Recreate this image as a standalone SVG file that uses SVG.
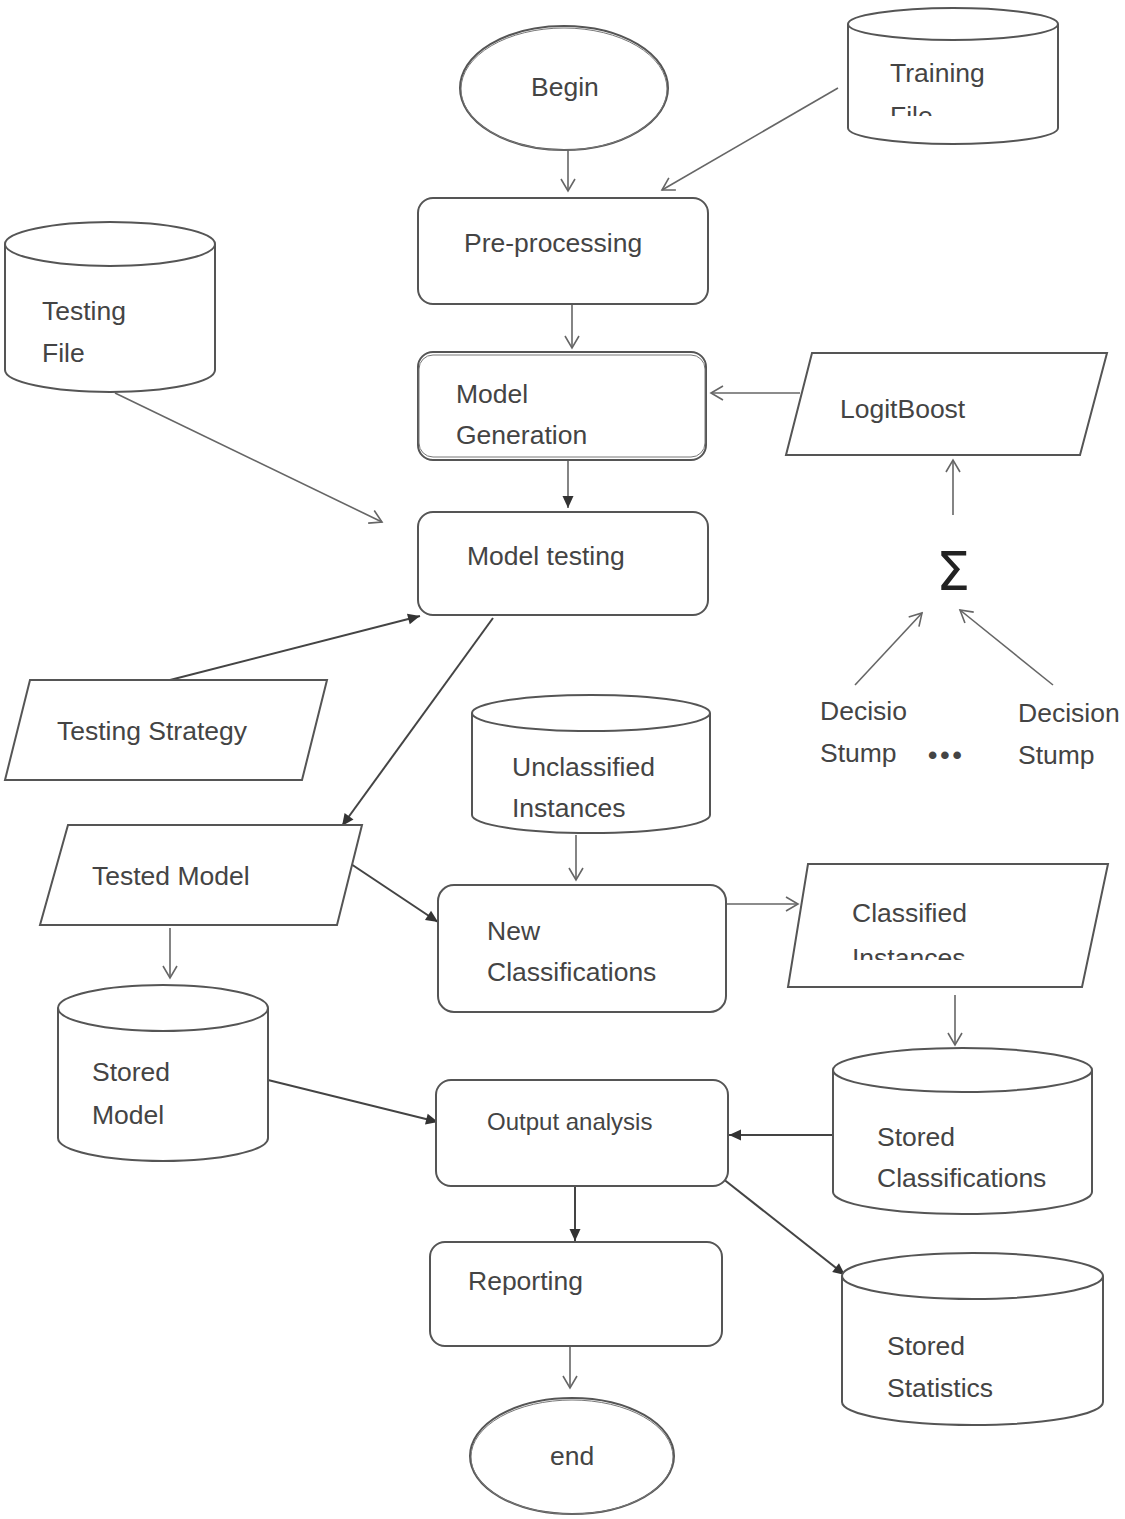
<svg xmlns="http://www.w3.org/2000/svg" width="1125" height="1519" viewBox="0 0 1125 1519">
<style>
.shape{fill:#fff;stroke:#555;stroke-width:2}
.t{font-family:"Liberation Sans",Arial,sans-serif;font-size:26.5px;fill:#444}
.c{stroke:#666;stroke-width:1.6;fill:none}
.cd{stroke:#444;stroke-width:2;fill:none}
</style>
<defs>
<marker id="open" markerWidth="16" markerHeight="16" refX="14" refY="8" orient="auto" markerUnits="userSpaceOnUse">
<path d="M2,1 L14,8 L2,15" fill="none" stroke="#666" stroke-width="1.6"/>
</marker>
<marker id="fill" markerWidth="14" markerHeight="14" refX="13" refY="7" orient="auto" markerUnits="userSpaceOnUse">
<path d="M1,1.5 L13,7 L1,12.5 Z" fill="#333"/>
</marker>
<clipPath id="clipTrain"><rect x="840" y="0" width="240" height="116"/></clipPath>
<clipPath id="clipClass"><rect x="780" y="860" width="340" height="100"/></clipPath>
<clipPath id="clipModel"><rect x="50" y="980" width="240" height="145"/></clipPath>
</defs>
<rect width="1125" height="1519" fill="#fff"/>

<g id="connectors">
<line class="c" x1="568" y1="150" x2="568" y2="191" marker-end="url(#open)"/>
<line class="c" x1="838" y1="88" x2="662" y2="190" marker-end="url(#open)"/>
<line class="c" x1="572" y1="304" x2="572" y2="348" marker-end="url(#open)"/>
<line class="c" x1="800" y1="393" x2="711" y2="393" marker-end="url(#open)"/>
<line class="c" x1="953" y1="515" x2="953" y2="460" marker-end="url(#open)"/>
<line class="c" x1="855" y1="685" x2="922" y2="613" marker-end="url(#open)"/>
<line class="c" x1="1053" y1="685" x2="960" y2="610" marker-end="url(#open)"/>
<line class="c" x1="568" y1="460" x2="568" y2="508" marker-end="url(#fill)"/>
<line class="c" x1="115" y1="393" x2="382" y2="522" marker-end="url(#open)"/>
<line class="cd" x1="170" y1="680" x2="420" y2="616" marker-end="url(#fill)"/>
<line class="cd" x1="493" y1="618" x2="342" y2="826" marker-end="url(#fill)"/>
<line class="cd" x1="342" y1="858" x2="438" y2="922" marker-end="url(#fill)"/>
<line class="c" x1="170" y1="928" x2="170" y2="978" marker-end="url(#open)"/>
<line class="c" x1="576" y1="835" x2="576" y2="880" marker-end="url(#open)"/>
<line class="c" x1="726" y1="904" x2="798" y2="904" marker-end="url(#open)"/>
<line class="c" x1="955" y1="995" x2="955" y2="1045" marker-end="url(#open)"/>
<line class="cd" x1="833" y1="1135" x2="729" y2="1135" marker-end="url(#fill)"/>
<line class="cd" x1="268" y1="1080" x2="438" y2="1122" marker-end="url(#fill)"/>
<line class="cd" x1="575" y1="1186" x2="575" y2="1241" marker-end="url(#fill)"/>
<line class="cd" x1="722" y1="1178" x2="845" y2="1275" marker-end="url(#fill)"/>
<line class="c" x1="570" y1="1346" x2="570" y2="1388" marker-end="url(#open)"/>
</g>

<g id="begin">
<ellipse class="shape" cx="564" cy="88" rx="104" ry="62"/>
<ellipse cx="564" cy="89" rx="103" ry="61" fill="none" stroke="#777" stroke-width="1"/>
<text class="t" x="531" y="96">Begin</text>
</g>

<g id="training-file">
<path class="shape" d="M848,24 A105,16 0 0 1 1058,24 L1058,128 A105,16 0 0 1 848,128 Z"/>
<path class="shape" d="M848,24 A105,16 0 0 0 1058,24" fill="none"/>
<text class="t" x="890" y="82">Training</text>
<text class="t" x="890" y="125" clip-path="url(#clipTrain)">File</text>
</g>

<g id="pre-processing">
<rect class="shape" x="418" y="198" width="290" height="106" rx="15"/>
<text class="t" x="464" y="252">Pre-processing</text>
</g>

<g id="model-generation">
<rect class="shape" x="418" y="352" width="288" height="108" rx="15"/>
<rect x="419" y="355" width="286" height="102" rx="14" fill="none" stroke="#777" stroke-width="1"/>
<text class="t" x="456" y="403">Model</text>
<text class="t" x="456" y="444">Generation</text>
</g>

<g id="logitboost">
<polygon class="shape" points="812,353 1107,353 1080,455 786,455"/>
<text class="t" x="840" y="418">LogitBoost</text>
</g>

<g id="sigma">
<text x="953" y="590" text-anchor="middle" style="font-family:'DejaVu Sans',sans-serif;font-size:54px;fill:#222">Σ</text>
</g>

<g id="decision-stump-1">
<text class="t" x="820" y="720">Decisio</text>
<text class="t" x="820" y="762">Stump</text>
</g>

<g id="ellipsis">
<text class="t" x="928" y="764" style="font-weight:bold;letter-spacing:3px">•••</text>
</g>

<g id="decision-stump-2">
<text class="t" x="1018" y="722">Decision</text>
<text class="t" x="1018" y="764">Stump</text>
</g>

<g id="testing-file">
<path class="shape" d="M5,244 A105,22 0 0 1 215,244 L215,370 A105,22 0 0 1 5,370 Z"/>
<path class="shape" d="M5,244 A105,22 0 0 0 215,244" fill="none"/>
<text class="t" x="42" y="320">Testing</text>
<text class="t" x="42" y="362">File</text>
</g>

<g id="model-testing">
<rect class="shape" x="418" y="512" width="290" height="103" rx="15"/>
<text class="t" x="467" y="565">Model testing</text>
</g>

<g id="testing-strategy">
<polygon class="shape" points="30,680 327,680 302,780 5,780"/>
<text class="t" x="57" y="740">Testing Strategy</text>
</g>

<g id="tested-model">
<polygon class="shape" points="68,825 362,825 337,925 40,925"/>
<text class="t" x="92" y="885">Tested Model</text>
</g>

<g id="unclassified-instances">
<path class="shape" d="M472,713 A119,18 0 0 1 710,713 L710,815 A119,18 0 0 1 472,815 Z"/>
<path class="shape" d="M472,713 A119,18 0 0 0 710,713" fill="none"/>
<text class="t" x="512" y="776">Unclassified</text>
<text class="t" x="512" y="817">Instances</text>
</g>

<g id="new-classifications">
<rect class="shape" x="438" y="885" width="288" height="127" rx="16"/>
<text class="t" x="487" y="940">New</text>
<text class="t" x="487" y="981">Classifications</text>
</g>

<g id="classified-instances">
<polygon class="shape" points="808,864 1108,864 1082,987 788,987"/>
<text class="t" x="852" y="922">Classified</text>
<text class="t" x="852" y="967" clip-path="url(#clipClass)">Instances</text>
</g>

<g id="stored-model">
<path class="shape" d="M58,1008 A105,23 0 0 1 268,1008 L268,1138 A105,23 0 0 1 58,1138 Z"/>
<path class="shape" d="M58,1008 A105,23 0 0 0 268,1008" fill="none"/>
<text class="t" x="92" y="1081">Stored</text>
<text class="t" x="92" y="1124" clip-path="url(#clipModel)">Model</text>
</g>

<g id="output-analysis">
<rect class="shape" x="436" y="1080" width="292" height="106" rx="15"/>
<text class="t" x="487" y="1130" style="font-size:24px">Output analysis</text>
</g>

<g id="stored-classifications">
<path class="shape" d="M833,1070 A129.5,22 0 0 1 1092,1070 L1092,1192 A129.5,22 0 0 1 833,1192 Z"/>
<path class="shape" d="M833,1070 A129.5,22 0 0 0 1092,1070" fill="none"/>
<text class="t" x="877" y="1146">Stored</text>
<text class="t" x="877" y="1187">Classifications</text>
</g>

<g id="reporting">
<rect class="shape" x="430" y="1242" width="292" height="104" rx="15"/>
<text class="t" x="468" y="1290">Reporting</text>
</g>

<g id="stored-statistics">
<path class="shape" d="M842,1276 A130.5,23 0 0 1 1103,1276 L1103,1402 A130.5,23 0 0 1 842,1402 Z"/>
<path class="shape" d="M842,1276 A130.5,23 0 0 0 1103,1276" fill="none"/>
<text class="t" x="887" y="1355">Stored</text>
<text class="t" x="887" y="1397">Statistics</text>
</g>

<g id="end">
<ellipse class="shape" cx="572" cy="1456" rx="102" ry="58"/>
<ellipse cx="572" cy="1457" rx="101" ry="57" fill="none" stroke="#777" stroke-width="1"/>
<text class="t" x="550" y="1465">end</text>
</g>
</svg>
